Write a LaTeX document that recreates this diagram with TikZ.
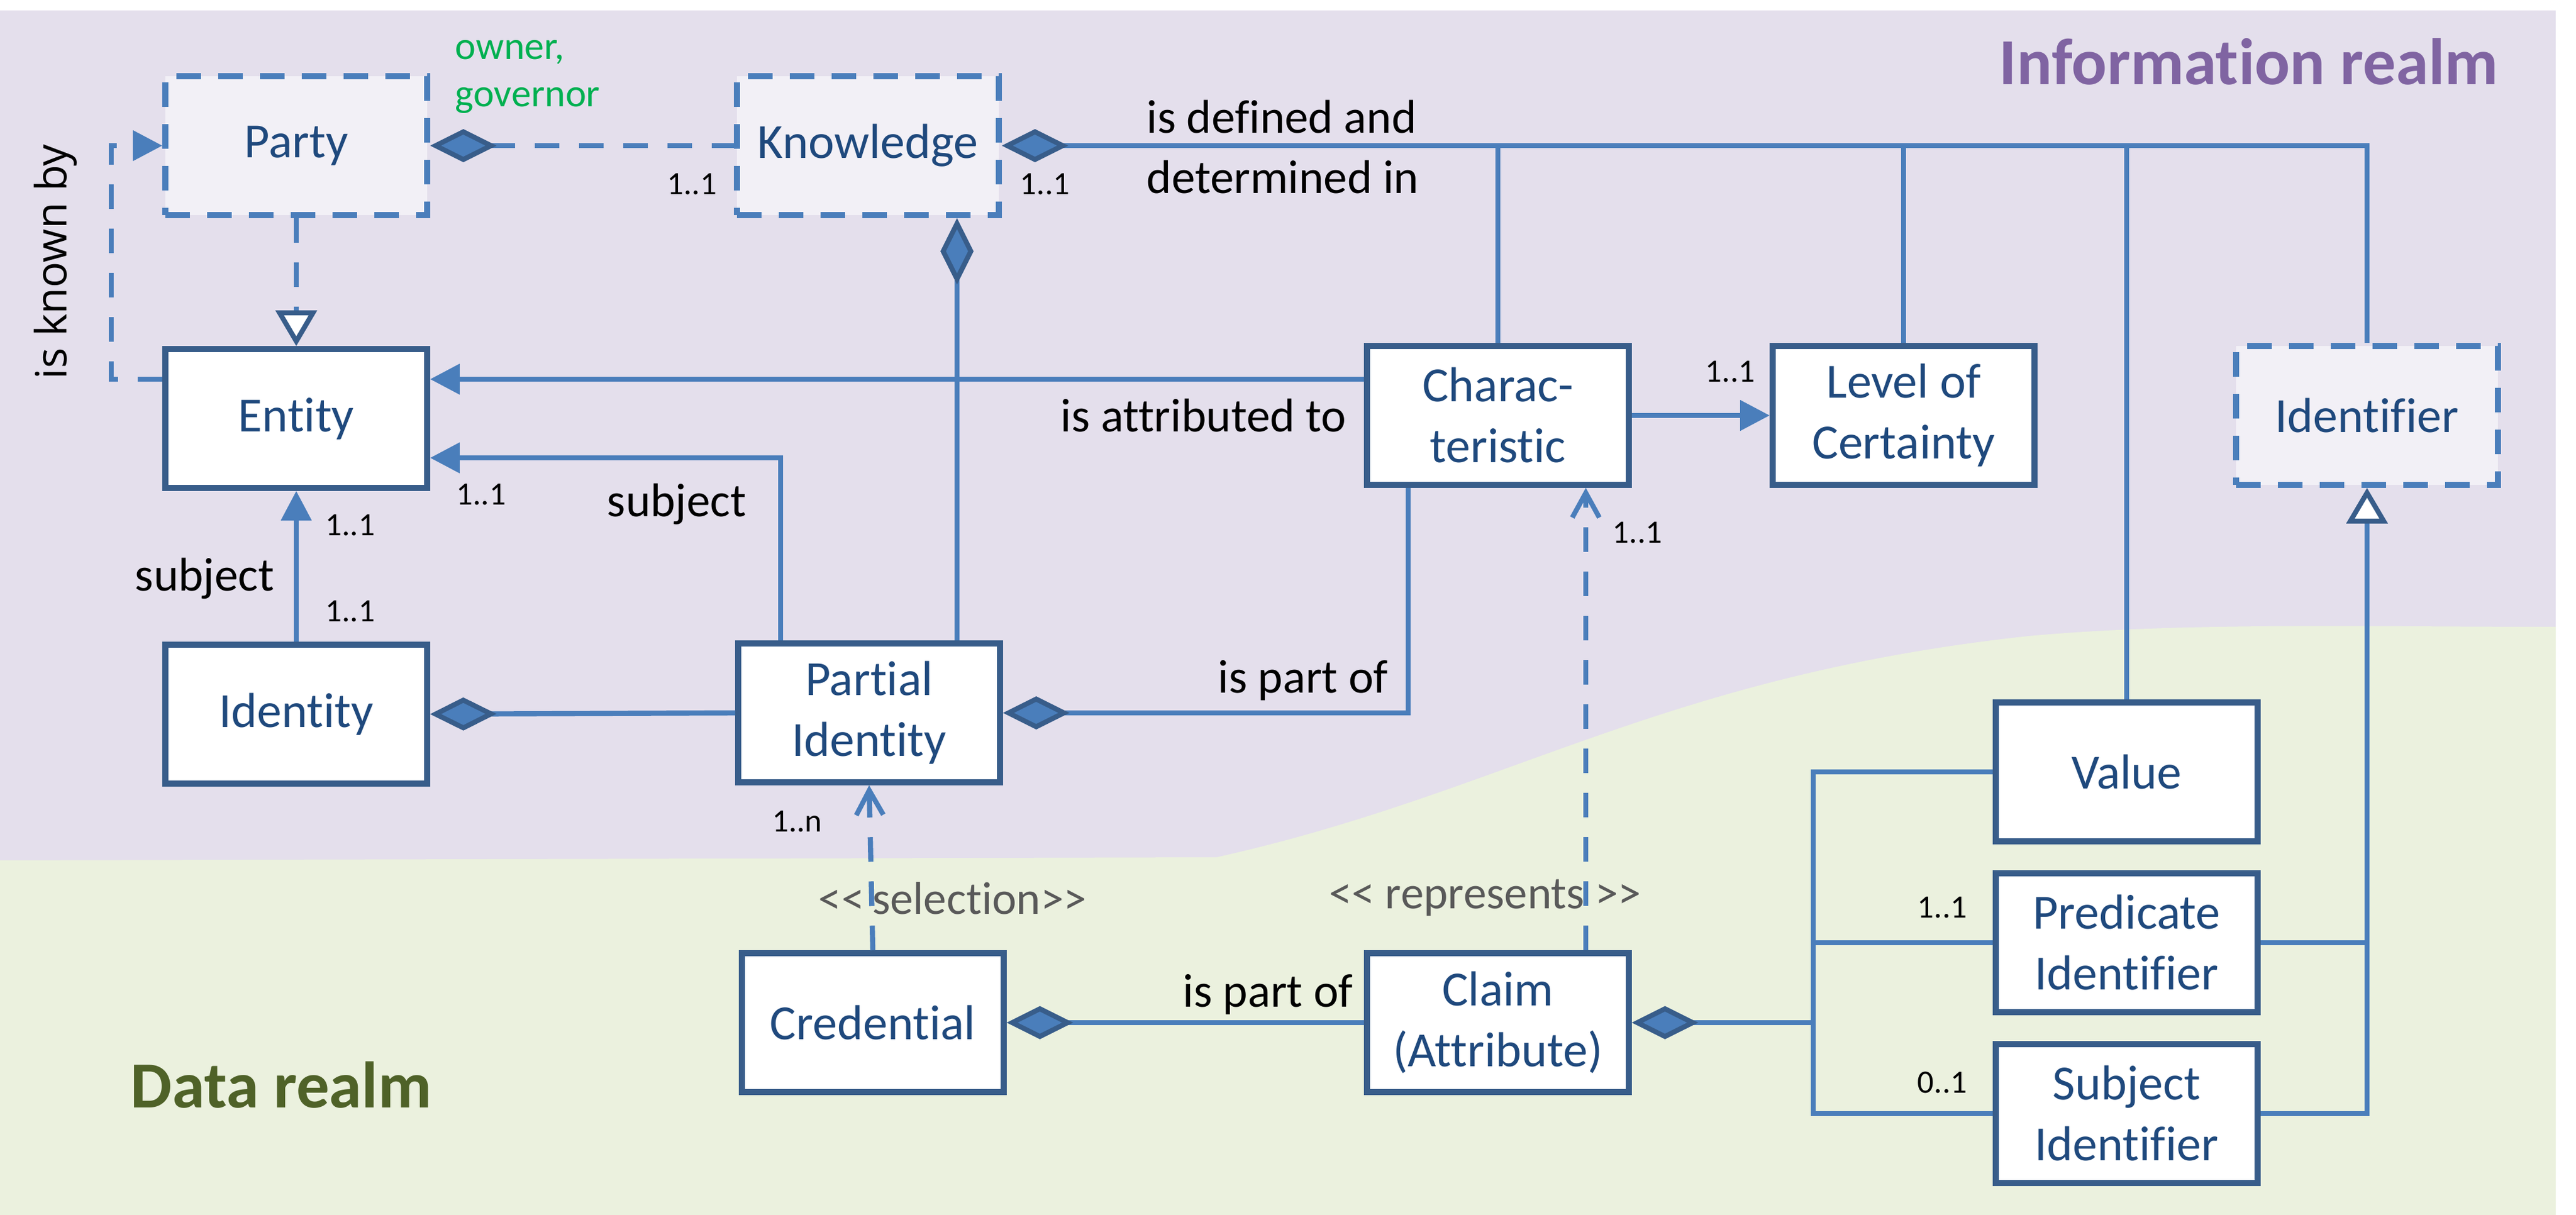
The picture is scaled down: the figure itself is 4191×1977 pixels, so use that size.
\documentclass[tikz,border=0pt]{standalone}
\usepackage{fontspec}
\setmainfont{Carlito}[Ligatures=NoCommon]
\newfontfamily\knownfont{Open Sans}
\usetikzlibrary{arrows.meta}
\definecolor{bgpurple}{HTML}{E4DFEC}
\definecolor{bggreen}{HTML}{EBF1DE}
\definecolor{lineblue}{HTML}{4A7EBB}
\definecolor{boxblue}{HTML}{385D8A}
\definecolor{textblue}{HTML}{1F497D}
\definecolor{lavfill}{HTML}{F2F0F6}
\definecolor{realmpurple}{HTML}{8064A2}
\definecolor{realmgreen}{HTML}{4F6228}
\definecolor{ownergreen}{HTML}{00B050}
\definecolor{stgray}{HTML}{595959}
\begin{document}
\begin{tikzpicture}[x=0.25pt,y=-0.25pt,
  box/.style={rectangle, draw=boxblue, line width=2.4pt, fill=white, text=textblue,
    font=\fontsize{20}{24.75}\selectfont, align=center,
    minimum width=106.5pt, minimum height=56.5pt, inner sep=0pt},
  dbox/.style={box, draw=lineblue, fill=lavfill, dash pattern=on 10pt off 7pt},
  conn/.style={draw=lineblue, line width=2.1pt},
  dconn/.style={conn, dash pattern=on 10pt off 8pt},
  dia/.style={{Diamond[length=27pt,width=13.5pt,line width=2pt,fill=lineblue,color=boxblue]}-},
  tri/.style={-{Triangle[length=12pt,width=12pt]}},
  gen/.style={-{Triangle[length=14.5pt,width=16.5pt,line width=2pt,fill=white,color=boxblue]}},
  barb/.style={-{Straight Barb[length=10pt,width=11pt,line width=2pt]}},
  lbl/.style={inner sep=0pt, text=black, font=\fontsize{19.25}{24.5}\selectfont, align=left},
  mult/.style={inner sep=0pt, text=black, font=\fontsize{13.25}{16}\selectfont},
  stereo/.style={inner sep=0pt, text=stgray, font=\fontsize{18.75}{22}\selectfont},
  realm/.style={inner sep=0pt, font=\fontsize{26.75}{32}\selectfont\bfseries}
]
\useasboundingbox (0,0) rectangle (4191,1977);
% background
\fill[white] (0,0) rectangle (4191,1977);
\fill[bgpurple] (0,17) rectangle (4158,1977);
\fill[bggreen] (0,1977) -- (0,1400) -- (1979,1395)
  .. controls (2450,1290) and (2700,1100) .. (3300,1035)
  .. controls (3550,1012) and (3850,1020) .. (4158,1020) -- (4158,1977) -- cycle;

% realm titles
\node[realm, text=realmpurple, anchor=east] (inforealm) at (4065,100) {Information realm};
\node[realm, text=realmgreen, anchor=west] (datarealm) at (212,1765) {Data realm};

% boxes
\node[dbox] (party) at (482,237) {Party};
\node[dbox] (kn) at (1412,237) {Knowledge};
\node[box] (entity) at (482,681) {Entity};
\node[box] (identity) at (482,1162) {Identity};
\node[box] (pi) at (1414,1160) {Partial\\Identity};
\node[box] (cred) at (1420,1664) {Credential};
\node[box] (charac) at (2437,676) {Charac-\\teristic};
\node[box] (loc) at (3097,676) {Level of\\Certainty};
\node[dbox] (ident) at (3851,676) {Identifier};
\node[box] (claim) at (2437,1664) {Claim\\(Attribute)};
\node[box] (value) at (3460,1256) {Value};
\node[box] (pred) at (3460,1534) {Predicate\\Identifier};
\node[box] (subj) at (3460,1812) {Subject\\Identifier};

% helper coordinates
\coordinate (yA) at (0,617);
\coordinate (yS) at (0,745);
\coordinate (xK) at (181,0);
\coordinate (xD) at (1557,0);
\coordinate (xS) at (1270,0);
\coordinate (xC) at (2291,0);
\coordinate (xR) at (2580,0);
\coordinate (xB) at (2950,0);

% labels
\node[lbl, text=ownergreen, font=\fontsize{16}{19.25}\selectfont, anchor=west] (owner) at (740,125) {owner,\\governor};
\node[mult] (m1) at (1126,300) {1..1};
\node[mult] (m2) at (1700,300) {1..1};
\node[lbl, anchor=west] (defined) at (1865,239) {is defined and\\determined in};
\node[lbl] (attr) at (1958,676) {is attributed to};
\node[mult] (m3) at (783,805) {1..1};
\node[lbl] (subjA) at (1101,820) {subject};
\node[mult] (m4) at (570,855) {1..1};
\node[mult] (m5) at (570,995) {1..1};
\node[lbl] (subjB) at (333,941) {subject};
\node[inner sep=0pt, rotate=90, font=\knownfont\fontsize{17.5}{21}\selectfont] (known) at (90,426) {is known by};
\node[lbl] (partA) at (2120,1107) {is part of};
\node[mult] (m6) at (2815,605) {1..1};
\node[mult] (m7) at (2664,867) {1..1};
\node[mult] (m8) at (1297,1337) {1..n};
\node[stereo] (sel) at (1550,1462) {<\kern0pt<\,selection>\kern0pt>};
\node[stereo] (rep) at (2416,1461) {<\kern0pt< represents >\kern0pt>};
\node[lbl] (partB) at (2063,1618) {is part of};
\node[mult] (m9) at (3160,1477) {1..1};
\node[mult] (m10) at (3160,1762) {0..1};

% connectors
\draw[dconn, dia] (party.east) -- (kn.west);
\draw[dconn, -{Triangle[length=12pt,width=12pt]}] (entity.west |- yA) -- (xK |- yA) -- (xK |- party.west) -- (party.west);
\draw[dconn, gen] (party.south) -- (entity.north);
\draw[conn, dia] (kn.east) -- (kn.east -| ident.north) -- (ident.north);
\draw[conn] (charac.north |- kn.east) -- (charac.north);
\draw[conn] (loc.north |- kn.east) -- (loc.north);
\draw[conn] (value.north |- kn.east) -- (value.north);
\draw[conn, dia] (kn.south -| xD) -- (pi.north -| xD);
\draw[conn, tri] (charac.west |- yA) -- (entity.east |- yA);
\draw[conn, tri] (pi.north -| xS) |- (entity.east |- yS);
\draw[conn, tri] (identity.north) -- (entity.south);
\draw[conn, dia] (identity.east) -- (pi.west);
\draw[conn, dia] (pi.east) -| (charac.south -| xC);
\draw[dconn, barb] (cred.north) -- (pi.south);
\draw[conn, dia] (cred.east) -- (claim.west);
\draw[dconn, barb] (claim.north -| xR) -- (charac.south -| xR);
\draw[conn, tri] (charac.east) -- (loc.west);
\draw[conn, dia] (claim.east) -- (claim.east -| xB);
\draw[conn] (value.west) -| (xB |- subj.west) -- (subj.west);
\draw[conn] (pred.west) -- (pred.west -| xB);
\draw[conn] (pred.east) -- (pred.east -| ident.south);
\draw[conn, gen] (subj.east) -| (ident.south);
\end{tikzpicture}
\end{document}
